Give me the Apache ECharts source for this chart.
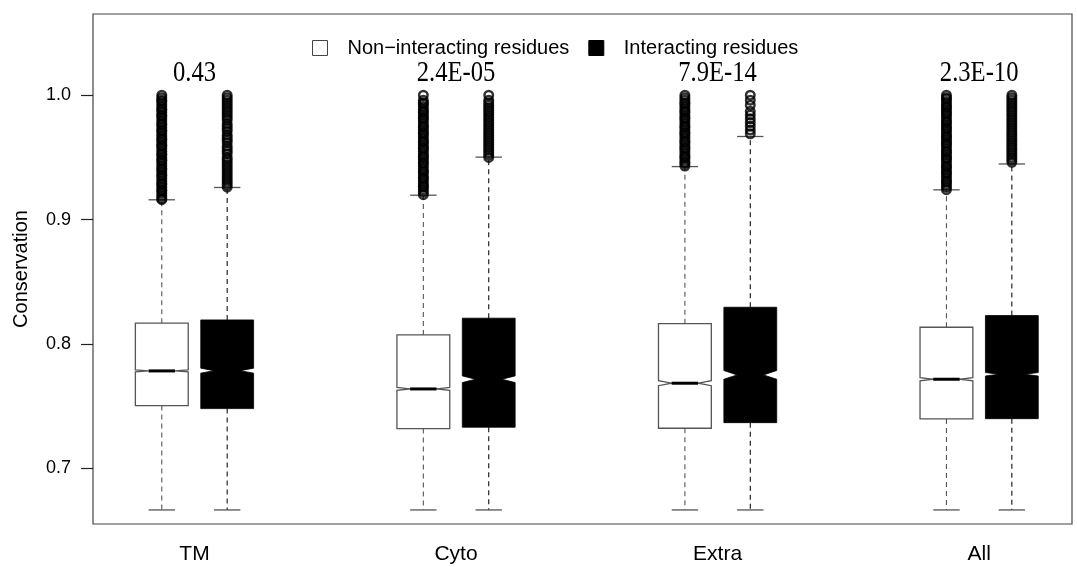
<!DOCTYPE html>
<html>
<head>
<meta charset="utf-8">
<script src="https://cdn.jsdelivr.net/npm/echarts@6/dist/echarts.min.js"></script>
<style>
  html, body { margin: 0; padding: 0; background: #fff; }
  #chart { width: 1077px; height: 567px; }
</style>
</head>
<body>
<div id="chart"></div>
<script>
// Region categories along the x axis
const groups = ['TM', 'Cyto', 'Extra', 'All'];
// Wilcoxon p-values printed above each pair
const pValues = ['0.43', '2.4E-05', '7.9E-14', '2.3E-10'];
// y-axis tick labels
const yTicks = [0.7, 0.8, 0.9, 1.0];

// Box statistics per region: [lower whisker, Q1, median, Q3, upper whisker]
const nonInteracting = [
  [0.6665, 0.7504, 0.7783, 0.8167, 0.9159],
  [0.6665, 0.7319, 0.7638, 0.8072, 0.9196],
  [0.6665, 0.7322, 0.7684, 0.8163, 0.9426],
  [0.6665, 0.7397, 0.7716, 0.8134, 0.9239]
];
const interacting = [
  [0.6665, 0.7480, 0.7785, 0.8193, 0.9258],
  [0.6665, 0.7330, 0.7716, 0.8207, 0.9502],
  [0.6665, 0.7367, 0.7751, 0.8295, 0.9668],
  [0.6665, 0.7399, 0.7756, 0.8228, 0.9447]
];
// Half-height of the median notch (confidence interval of the median)
const nonInteractingNotch = [0.0008, 0.0012, 0.0020, 0.0013];
const interactingNotch = [0.0020, 0.0027, 0.0035, 0.0014];

// Outlying conservation scores above the upper whisker
const nonInteractingOutliers = [
  [1.000, 0.998, 0.996, 0.995, 0.993, 0.991, 0.989, 0.988, 0.986, 0.984, 0.983, 0.981, 0.979, 0.977, 0.976,
   0.974, 0.972, 0.971, 0.969, 0.967, 0.965, 0.964, 0.962, 0.960, 0.959, 0.957, 0.955, 0.953, 0.952, 0.950,
   0.948, 0.947, 0.945, 0.943, 0.941, 0.940, 0.938, 0.936, 0.935, 0.933, 0.931, 0.929, 0.928, 0.926, 0.924,
   0.923, 0.921, 0.919, 0.917, 0.916],
  [1.000, 0.996, 0.994, 0.993, 0.991, 0.989, 0.987, 0.986, 0.984, 0.982, 0.981, 0.979, 0.977, 0.975, 0.974,
   0.972, 0.970, 0.969, 0.967, 0.965, 0.963, 0.962, 0.960, 0.958, 0.957, 0.955, 0.953, 0.951, 0.950, 0.948,
   0.946, 0.945, 0.943, 0.941, 0.939, 0.938, 0.936, 0.934, 0.933, 0.931, 0.929, 0.927, 0.926, 0.924, 0.922,
   0.920],
  [1.000, 0.998, 0.996, 0.994, 0.993, 0.991, 0.989, 0.987, 0.986, 0.984, 0.982, 0.981, 0.979, 0.977, 0.975,
   0.974, 0.972, 0.970, 0.969, 0.967, 0.965, 0.963, 0.962, 0.960, 0.958, 0.957, 0.955, 0.953, 0.951, 0.950,
   0.948, 0.946, 0.945, 0.943],
  [1.000, 0.998, 0.997, 0.995, 0.993, 0.991, 0.990, 0.988, 0.986, 0.985, 0.983, 0.981, 0.979, 0.978, 0.976,
   0.974, 0.973, 0.971, 0.969, 0.967, 0.966, 0.964, 0.962, 0.961, 0.959, 0.957, 0.955, 0.954, 0.952, 0.950,
   0.949, 0.947, 0.945, 0.943, 0.942, 0.940, 0.938, 0.937, 0.935, 0.933, 0.931, 0.930, 0.928, 0.926, 0.924]
];
const interactingOutliers = [
  [1.000, 0.998, 0.996, 0.994, 0.992, 0.990, 0.988, 0.986, 0.984, 0.982, 0.980, 0.977, 0.975, 0.973, 0.971,
   0.968, 0.966, 0.964, 0.962, 0.959, 0.957, 0.955, 0.953, 0.950, 0.948, 0.946, 0.944, 0.942, 0.940, 0.938,
   0.936, 0.934, 0.932, 0.930, 0.928, 0.926],
  [1.000, 0.996, 0.994, 0.992, 0.990, 0.988, 0.986, 0.984, 0.982, 0.980, 0.978, 0.976, 0.974, 0.972, 0.970,
   0.968, 0.966, 0.964, 0.962, 0.960, 0.958, 0.956, 0.954, 0.952, 0.950],
  [1.000, 0.996, 0.992, 0.987, 0.984, 0.981, 0.978, 0.975, 0.972, 0.969],
  [1.000, 0.998, 0.996, 0.994, 0.992, 0.990, 0.988, 0.986, 0.984, 0.982, 0.980, 0.978, 0.976, 0.974, 0.972,
   0.970, 0.968, 0.966, 0.964, 0.962, 0.960, 0.958, 0.956, 0.954, 0.952, 0.950, 0.948, 0.946]
];

const seriesNames = ['Non\u2212interacting residues', 'Interacting residues'];
const pairOffset = 0.125;   // horizontal shift of each box from the region centre
const boxHalf = 0.101;      // half box width in x units
const labelY = 1.0176;      // height of the p-value text

function boxData(stats, notch) {
  return stats.map((s, i) => [i, s[0], s[1], s[2], s[3], s[4], notch[i]]);
}
function outlierData(lists, offset) {
  const out = [];
  lists.forEach((vals, i) => vals.forEach(v => out.push([i + offset, v])));
  return out;
}

function makeBoxRenderer(offset, filled) {
  const lineColor = filled ? '#111' : '#555';
  return function (params, api) {
    const x = api.value(0) + offset;
    const lo = api.value(1), q1 = api.value(2), med = api.value(3), q3 = api.value(4), hi = api.value(5);
    const nh = api.value(6);
    const cx = api.coord([x, med])[0];
    const hw = api.size([boxHalf, 0])[0];
    const y = v => api.coord([x, v])[1];
    const yLo = y(lo), yQ1 = y(q1), yMed = y(med), yQ3 = y(q3), yHi = y(hi);
    const yNlo = y(med - nh), yNhi = y(med + nh);
    const L = cx - hw, R = cx + hw, Li = cx - hw / 2, Ri = cx + hw / 2;
    const dashed = { stroke: lineColor, lineWidth: 1.1, lineDash: [5, 4] };
    const solid = { stroke: '#555', lineWidth: 1.3 };
    return {
      type: 'group',
      children: [
        { type: 'line', shape: { x1: cx, y1: yQ3, x2: cx, y2: yHi }, style: dashed },
        { type: 'line', shape: { x1: cx, y1: yQ1, x2: cx, y2: yLo }, style: dashed },
        { type: 'line', shape: { x1: Li, y1: yHi, x2: Ri, y2: yHi }, style: solid },
        { type: 'line', shape: { x1: Li, y1: yLo, x2: Ri, y2: yLo }, style: solid },
        {
          type: 'polygon',
          shape: {
            points: [
              [L, yQ1], [L, yNlo], [Li, yMed], [L, yNhi], [L, yQ3],
              [R, yQ3], [R, yNhi], [Ri, yMed], [R, yNlo], [R, yQ1]
            ]
          },
          style: { fill: filled ? '#000' : '#fff', stroke: filled ? '#000' : '#555', lineWidth: filled ? 0.8 : 1.3 }
        },
        { type: 'line', shape: { x1: Li, y1: yMed, x2: Ri, y2: yMed }, style: { stroke: '#000', lineWidth: 3 } }
      ]
    };
  };
}

const chart = echarts.init(document.getElementById('chart'), null, { renderer: 'canvas' });

const outlierStyle = { color: 'rgba(0,0,0,0)', borderColor: '#000', borderWidth: 2.5 };

chart.setOption({
  animation: false,
  backgroundColor: '#fff',
  grid: {
    left: 93, right: 5, top: 14, bottom: 43,
    show: true, borderColor: '#444', borderWidth: 1.2, backgroundColor: 'transparent'
  },
  legend: {
    top: 33, left: 307,
    itemWidth: 15, itemHeight: 15, itemGap: 19,
    textStyle: { fontFamily: 'Liberation Sans', fontSize: 20, color: '#000', padding: [0, 0, 0, 15] },
    data: [
      { name: seriesNames[0], icon: 'rect', itemStyle: { color: '#fff', borderColor: '#444', borderWidth: 1 } },
      { name: seriesNames[1], icon: 'rect', itemStyle: { color: '#000', borderColor: '#000', borderWidth: 1 } }
    ]
  },
  xAxis: {
    type: 'value',
    min: -0.388, max: 3.355,
    splitLine: { show: false },
    axisLine: { show: false, onZero: false },
    axisTick: { show: false },
    axisLabel: {
      customValues: [0, 1, 2, 3],
      formatter: v => groups[Math.round(v)],
      margin: 20,
      fontFamily: 'Liberation Sans', fontSize: 21, color: '#000'
    }
  },
  yAxis: {
    type: 'value',
    min: 0.6552, max: 1.0653,
    name: 'Conservation',
    nameLocation: 'middle',
    nameGap: 62,
    nameTextStyle: { fontFamily: 'Liberation Sans', fontSize: 20, color: '#000' },
    splitLine: { show: false },
    axisLine: { show: false, onZero: false },
    axisTick: { show: true, customValues: yTicks, length: 12, lineStyle: { color: '#222', width: 1.2 } },
    axisLabel: {
      customValues: yTicks,
      formatter: v => v.toFixed(1),
      margin: 22,
      fontFamily: 'Liberation Sans', fontSize: 18, color: '#000'
    }
  },
  series: [
    {
      name: seriesNames[0],
      type: 'custom',
      itemStyle: { color: '#fff', borderColor: '#444' },
      renderItem: makeBoxRenderer(-pairOffset, false),
      encode: { x: 0, y: [1, 2, 3, 4, 5] },
      data: boxData(nonInteracting, nonInteractingNotch)
    },
    {
      name: seriesNames[1],
      type: 'custom',
      itemStyle: { color: '#000' },
      renderItem: makeBoxRenderer(pairOffset, true),
      encode: { x: 0, y: [1, 2, 3, 4, 5] },
      data: boxData(interacting, interactingNotch)
    },
    {
      name: 'outliers-non',
      type: 'scatter',
      symbol: 'circle',
      symbolSize: 8.5,
      itemStyle: outlierStyle,
      data: outlierData(nonInteractingOutliers, -pairOffset)
    },
    {
      name: 'outliers-int',
      type: 'scatter',
      symbol: 'circle',
      symbolSize: 8.5,
      itemStyle: outlierStyle,
      data: outlierData(interactingOutliers, pairOffset)
    },
    {
      name: 'p-values',
      type: 'custom',
      renderItem: function (params, api) {
        const p = api.coord([api.value(0), api.value(1)]);
        return {
          type: 'text',
          x: p[0], y: p[1],
          scaleX: 0.82,
          style: {
            x: 0, y: 0,
            text: pValues[params.dataIndex],
            font: '30px "Liberation Serif"',
            fill: '#000',
            align: 'center',
            verticalAlign: 'middle'
          }
        };
      },
      data: groups.map((g, i) => [i, labelY])
    }
  ]
});
</script>
</body>
</html>
